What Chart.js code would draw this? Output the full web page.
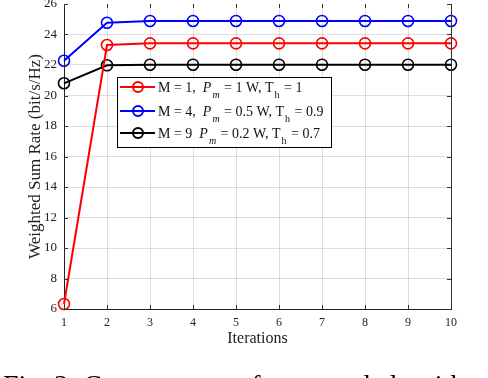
<!DOCTYPE html>
<html>
<head>
<meta charset="utf-8">
<script src="https://cdn.jsdelivr.net/npm/chart.js@4.4.0/dist/chart.umd.min.js"></script>
<style>
    html, body { margin: 0; padding: 0; background: #fff; }
    #wrap { position: relative; width: 488px; height: 378px; overflow: hidden; }
    #caption {
        position: absolute; left: 3px; top: 370px; white-space: nowrap;
        font-family: "Liberation Serif", serif; font-size: 28px; line-height: 30px; color: #000;
    }
</style>
</head>
<body>
<div id="wrap">
    <canvas id="chart" width="488" height="378"></canvas>
    <div id="caption">Fig. 2: Convergence of proposed algorithm</div>
</div>
<script>
// Data
const iterations = ['1', '2', '3', '4', '5', '6', '7', '8', '9', '10'];
const rateM1 = [6.33, 23.31, 23.42, 23.42, 23.42, 23.42, 23.42, 23.42, 23.42, 23.42];
const rateM4 = [22.28, 24.77, 24.89, 24.89, 24.89, 24.89, 24.89, 24.89, 24.89, 24.89];
const rateM9 = [20.8, 21.98, 22.02, 22.02, 22.02, 22.02, 22.02, 22.02, 22.02, 22.02];
const seriesLabels = [
    'M = 1,  P_m = 1 W, T_h = 1',
    'M = 4,  P_m = 0.5 W, T_h = 0.9',
    'M = 9  P_m = 0.2 W, T_h = 0.7'
];
const seriesColors = ['#ff0000', '#0000ff', '#000000'];
const yTicks = [6, 8, 10, 12, 14, 16, 18, 20, 22, 24, 26];

const SERIF = '"Liberation Serif", "DejaVu Serif", serif';
Chart.defaults.font.family = SERIF;
Chart.defaults.color = '#222';

// draw "P_m" style text: letter before _ italic when P, subscript after _
function drawRichLabel(ctx, text, x, y) {
    const parts = text.split(/(\S_\S)/);
    let cx = x;
    parts.forEach(p => {
        if (!p) return;
        const m = p.match(/^(\S)_(\S)$/);
        if (m) {
            const italic = m[1] === 'P';
            ctx.font = (italic ? 'italic ' : '') + '14px ' + SERIF;
            ctx.fillText(m[1], cx, y);
            cx += ctx.measureText(m[1]).width;
            ctx.font = (italic ? 'italic ' : '') + '10px ' + SERIF;
            ctx.fillText(m[2], cx + 1, y + 6);
            cx += ctx.measureText(m[2]).width + 2;
        } else {
            ctx.font = '14px ' + SERIF;
            ctx.fillText(p, cx, y);
            cx += ctx.measureText(p).width;
        }
    });
}

// Matlab-like frame: inward ticks, right border, custom legend box
const framePlugin = {
    id: 'frame',
    afterDatasetsDraw(chart) {
        const {ctx, chartArea: a, scales: {x, y}} = chart;
        ctx.save();
        ctx.strokeStyle = '#333';
        ctx.lineWidth = 1;
        ctx.beginPath();
        ctx.moveTo(a.right + 0.5, a.top);
        ctx.lineTo(a.right + 0.5, a.bottom);
        x.ticks.forEach((t, i) => {
            const px = Math.round(x.getPixelForTick(i)) + 0.5;
            ctx.moveTo(px, a.bottom); ctx.lineTo(px, a.bottom - 4);
            ctx.moveTo(px, a.top); ctx.lineTo(px, a.top + 4);
        });
        y.ticks.forEach((t, i) => {
            const py = Math.round(y.getPixelForTick(i)) + 0.5;
            ctx.moveTo(a.left, py); ctx.lineTo(a.left + 4, py);
            ctx.moveTo(a.right, py); ctx.lineTo(a.right - 4, py);
        });
        ctx.stroke();
        ctx.restore();
    },
    afterDraw(chart) {
        const ctx = chart.ctx;
        const box = {left: 117, top: 77, right: 331, bottom: 147};
        const rows = [87, 111, 133];
        ctx.save();
        ctx.fillStyle = '#fff';
        ctx.fillRect(box.left, box.top, box.right - box.left, box.bottom - box.top);
        ctx.strokeStyle = '#000';
        ctx.lineWidth = 1;
        ctx.strokeRect(box.left + 0.5, box.top + 0.5, box.right - box.left, box.bottom - box.top);
        chart.data.datasets.forEach((ds, i) => {
            const ry = rows[i];
            ctx.strokeStyle = ds.borderColor;
            ctx.lineWidth = 2;
            ctx.beginPath();
            ctx.moveTo(120, ry); ctx.lineTo(155, ry);
            ctx.stroke();
            ctx.beginPath();
            ctx.arc(138, ry, 5, 0, Math.PI * 2);
            ctx.stroke();
            ctx.fillStyle = '#111';
            ctx.textBaseline = 'alphabetic';
            ctx.textAlign = 'left';
            drawRichLabel(ctx, ds.label, 158, ry + 5);
        });
        ctx.restore();
    }
};

function makeSeries(label, data, color) {
    return {
        label: label,
        data: data,
        borderColor: color,
        backgroundColor: color,
        borderWidth: 2,
        pointRadius: 5.5,
        pointBorderWidth: 1.6,
        pointBackgroundColor: 'rgba(0,0,0,0)',
        pointBorderColor: color,
        tension: 0,
        clip: false
    };
}

const ctx = document.getElementById('chart').getContext('2d');
new Chart(ctx, {
    type: 'line',
    data: {
        labels: iterations,
        datasets: [
            makeSeries(seriesLabels[0], rateM1, seriesColors[0]),
            makeSeries(seriesLabels[1], rateM4, seriesColors[1]),
            makeSeries(seriesLabels[2], rateM9, seriesColors[2])
        ]
    },
    options: {
        responsive: false,
        animation: false,
        layout: { autoPadding: false, padding: { left: 25, right: 37, top: 4, bottom: 30 } },
        plugins: {
            legend: { display: false },
            tooltip: { enabled: false }
        },
        scales: {
            x: {
                offset: false,
                grid: { color: 'rgba(0,0,0,0.13)', drawTicks: false },
                border: { color: '#222', width: 1 },
                ticks: { font: { size: 12 }, padding: 7, maxRotation: 0 },
                title: { display: true, text: 'Iterations', font: { size: 16 }, padding: 0 },
                afterFit: s => { s.height = 39; s.paddingLeft = 0; s.paddingRight = 0; }
            },
            y: {
                min: 6,
                max: 26,
                afterBuildTicks: s => { s.ticks = yTicks.map(v => ({value: v})); },
                grid: {
                    color: c => (c.tick && c.tick.value === 26) ? 'rgba(0,0,0,0)' : 'rgba(0,0,0,0.13)',
                    drawTicks: false
                },
                border: { color: '#222', width: 1 },
                ticks: { font: { size: 13 }, padding: 7 },
                title: { display: true, text: 'Weighted Sum Rate (bit/s/Hz)', font: { size: 17 }, padding: 0 },
                afterFit: s => { s.width = 39; s.paddingTop = 0; s.paddingBottom = 0; }
            }
        }
    },
    plugins: [framePlugin]
});
</script>
</body>
</html>
